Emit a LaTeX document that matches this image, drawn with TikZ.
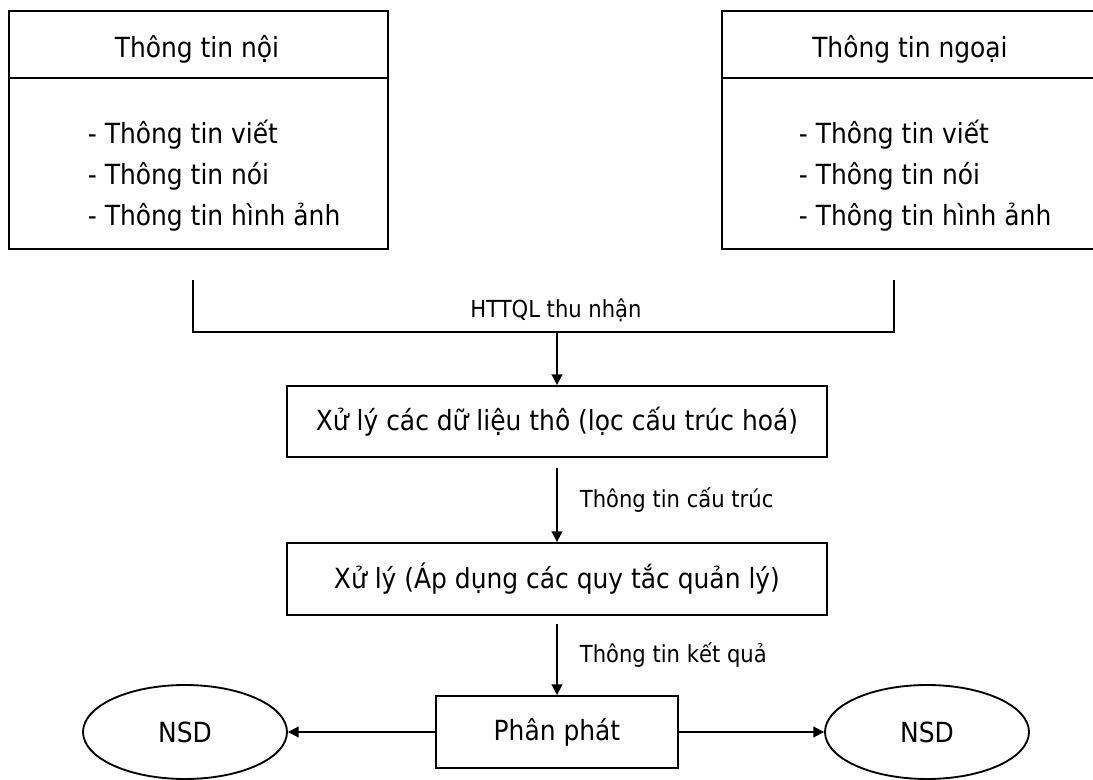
\documentclass[tikz,border=0pt]{standalone}
\usepackage{fontspec}
\setmainfont{DejaVu Sans Condensed}
\usetikzlibrary{arrows.meta,shapes.geometric}
\begin{document}
\begin{tikzpicture}[x=0.75pt,y=-0.75pt,
  line width=1.4pt,
  boxstyle/.style={draw,rectangle,inner sep=0pt},
  ovalstyle/.style={draw,ellipse,inner sep=0pt,minimum width=204*0.75pt,minimum height=94*0.75pt,font=\fontsize{20.8pt}{25pt}\selectfont},
  maintext/.style={inner sep=0pt,font=\fontsize{20.8pt}{25pt}\selectfont},
  smalltext/.style={inner sep=0pt,font=\fontsize{17.6pt}{21pt}\selectfont},
  flow/.style={-{Triangle[length=8pt,width=8pt]}}]
\useasboundingbox (0,0) rectangle (1093,780);
\clip (0,0) rectangle (1093,780);

% source boxes
\node[boxstyle,minimum width=379*0.75pt,minimum height=238*0.75pt] (lbox) at (198.5,130) {};
\node[boxstyle,minimum width=376*0.75pt,minimum height=238*0.75pt] (rbox) at (910,130) {};
\coordinate (split) at (0,78);
\draw (lbox.west |- split) -- (lbox.east |- split);
\draw (rbox.west |- split) -- (rbox.east |- split);

\node[maintext,anchor=base] (ltitle) at (197,58) {Thông tin nội};
\node[maintext,anchor=base west] (l1) at (87,144) {- Thông tin viết};
\node[maintext,anchor=base west] (l2) at (87,185) {- Thông tin nói};
\node[maintext,anchor=base west] (l3) at (87,226) {- Thông tin hình ảnh};

\node[maintext,anchor=base] (rtitle) at (910,58) {Thông tin ngoại};
\node[maintext,anchor=base west] (r1) at (798,144) {- Thông tin viết};
\node[maintext,anchor=base west] (r2) at (798,185) {- Thông tin nói};
\node[maintext,anchor=base west] (r3) at (798,226) {- Thông tin hình ảnh};

% collecting bracket
\coordinate (bltop) at (193,280);
\coordinate (blbot) at (193,332);
\coordinate (brtop) at (894,280);
\coordinate (brbot) at (894,332);
\coordinate (hin) at (557,332);
\draw (bltop) -- (blbot) -- (brbot) -- (brtop);
\node[smalltext,anchor=base] (httql) at (556,318) {HTTQL thu nhận};

% processing chain
\node[boxstyle,minimum width=540*0.75pt,minimum height=71*0.75pt,maintext] (raw) at (557,421.5) {Xử lý các dữ liệu thô (lọc cấu trúc hoá)};
\node[boxstyle,minimum width=540*0.75pt,minimum height=72*0.75pt,maintext] (rules) at (557,579) {Xử lý (Áp dụng các quy tắc quản lý)};
\node[boxstyle,minimum width=242*0.75pt,minimum height=72*0.75pt,maintext] (dist) at (557,732) {Phân phát};

\node[ovalstyle] (nsdl) at (185,732) {NSD};
\node[ovalstyle] (nsdr) at (927,732) {NSD};

\draw[flow] (hin) -- (raw.north);
\draw[flow,shorten <=7.5pt] (raw.south) -- node[smalltext,right=22*0.75pt] (lbl1) {Thông tin cấu trúc} (rules.north);
\draw[flow,shorten <=6pt] (rules.south) -- node[smalltext,right=22*0.75pt] (lbl2) {Thông tin kết quả} (dist.north);
\draw[flow] (dist.west) -- (nsdl.east);
\draw[flow] (dist.east) -- (nsdr.west);
\end{tikzpicture}
\end{document}
